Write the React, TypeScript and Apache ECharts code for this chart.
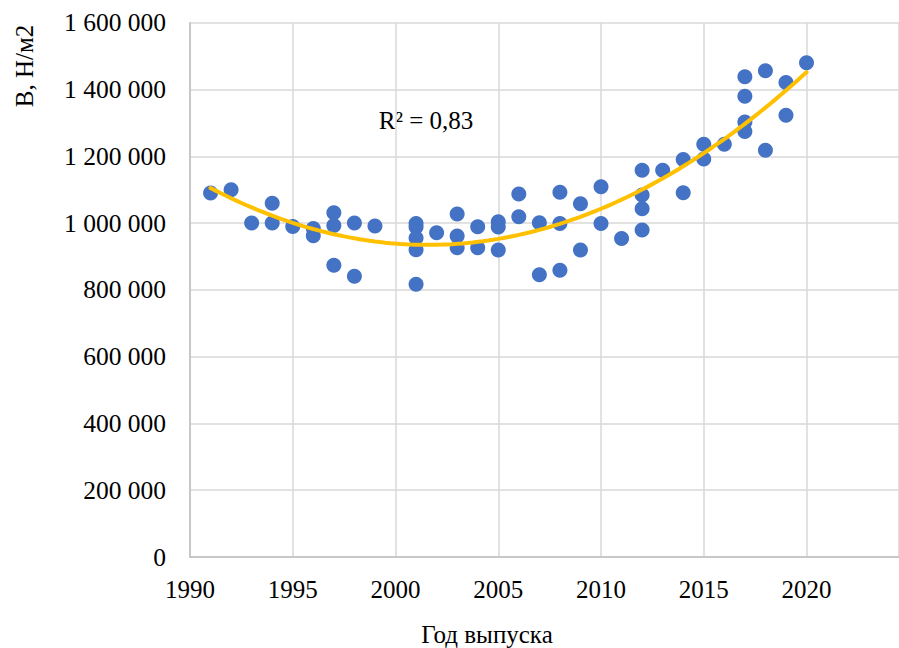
import React, { useEffect, useRef } from "react";
import * as echarts from "echarts";

const years = [
  1991, 1992, 1993, 1994, 1994, 1995, 1996, 1996, 1997, 1997, 1997, 1998, 1998, 1999,
  2001, 2001, 2001, 2001, 2001, 2002, 2003, 2003, 2003, 2004, 2004, 2005, 2005, 2005,
  2006, 2006, 2007, 2007, 2008, 2008, 2008, 2009, 2009, 2010, 2010, 2011,
  2012, 2012, 2012, 2012, 2013, 2014, 2014, 2015, 2015, 2016,
  2017, 2017, 2017, 2017, 2018, 2018, 2019, 2019, 2020,
];
const values = [
  1090000, 1100000, 1000000, 1000000, 1059000, 990000, 984000, 962000, 1031000, 993000, 874000, 1000000, 841000, 991000,
  999000, 988000, 955000, 920000, 817000, 971000, 1027000, 961000, 926000, 989000, 926000, 1004000, 988000, 919000,
  1087000, 1019000, 1001000, 845000, 1092000, 999000, 859000, 1058000, 919000, 1109000, 999000, 954000,
  1158000, 1084000, 1043000, 979000, 1158000, 1190000, 1091000, 1236000, 1192000, 1236000,
  1438000, 1380000, 1303000, 1274000, 1456000, 1218000, 1421000, 1323000, 1480000,
];
const xTicks = [1990, 1995, 2000, 2005, 2010, 2015, 2020];
const r2Label = "R² = 0,83";
const xTitle = "Год выпуска";
const yTitle = "В, Н/м2";

// Least-squares polynomial (order 2) trendline, as in the spreadsheet
function quadFit(xs: number[], ys: number[]) {
  const x0 = 2000;
  let s0 = 0, s1 = 0, s2 = 0, s3 = 0, s4 = 0, t0 = 0, t1 = 0, t2 = 0;
  for (let i = 0; i < xs.length; i++) {
    const x = xs[i] - x0;
    const y = ys[i];
    s0 += 1; s1 += x; s2 += x * x; s3 += x * x * x; s4 += x * x * x * x;
    t0 += y; t1 += x * y; t2 += x * x * y;
  }
  const M = [
    [s0, s1, s2, t0],
    [s1, s2, s3, t1],
    [s2, s3, s4, t2],
  ];
  for (let c = 0; c < 3; c++) {
    for (let r = c + 1; r < 3; r++) {
      const f = M[r][c] / M[c][c];
      for (let k = c; k < 4; k++) M[r][k] -= f * M[c][k];
    }
  }
  const b = [0, 0, 0];
  for (let r = 2; r >= 0; r--) {
    let s = M[r][3];
    for (let k = r + 1; k < 3; k++) s -= M[r][k] * b[k];
    b[r] = s / M[r][r];
  }
  return (x: number) => {
    const d = x - x0;
    return b[0] + b[1] * d + b[2] * d * d;
  };
}

export default function App() {
  const ref = useRef<HTMLDivElement>(null);
  useEffect(() => {
    if (!ref.current) return;
    const chart = echarts.init(ref.current, null, { renderer: "svg" });
    const f = quadFit(years, values);
    const xMin = Math.min(...years);
    const xMax = Math.max(...years);
    const trend: number[][] = [];
    for (let x = xMin; x <= xMax + 1e-9; x += 0.25) trend.push([x, f(x)]);
    const font = "'Liberation Serif', 'Times New Roman', serif";
    chart.setOption({
      animation: false,
      textStyle: { fontFamily: font },
      grid: { left: 190, right: 0, top: 22.7, bottom: 91, containLabel: false },
      xAxis: {
        type: "value",
        min: 1990,
        max: 2024.5,
        interval: 5,
        axisLine: { show: true, lineStyle: { color: "#bfbfbf", width: 1.5 } },
        axisTick: { show: false },
        splitLine: { show: true, lineStyle: { color: "#d9d9d9", width: 1.5 } },
        axisLabel: {
          color: "#000",
          fontFamily: font,
          fontSize: 25,
          margin: 20,
          showMaxLabel: false,
          formatter: (v: number) => (xTicks.includes(v) ? String(v) : ""),
        },
      },
      yAxis: {
        type: "value",
        min: 0,
        max: 1600000,
        interval: 200000,
        axisLine: { show: true, lineStyle: { color: "#bfbfbf", width: 1.5 } },
        axisTick: { show: false },
        splitLine: { show: true, lineStyle: { color: "#d9d9d9", width: 1.5 } },
        axisLabel: {
          color: "#000",
          fontFamily: font,
          fontSize: 25.5,
          margin: 24,
          formatter: (v: number) => String(v).replace(/\B(?=(\d{3})+(?!\d))/g, " "),
        },
      },
      graphic: [
        {
          type: "text",
          x: 487,
          y: 634,
          style: { text: xTitle, font: `25px ${font}`, fill: "#000", align: "center", verticalAlign: "middle" },
        },
        {
          type: "text",
          x: 24,
          y: 66,
          rotation: Math.PI / 2,
          style: { text: yTitle, font: `25px ${font}`, fill: "#000", align: "center", verticalAlign: "middle" },
        },
        {
          type: "text",
          x: 426,
          y: 120,
          style: { text: r2Label, font: `25px ${font}`, fill: "#000", align: "center", verticalAlign: "middle" },
        },
      ],
      series: [
        {
          type: "scatter",
          data: years.map((y, i) => [y, values[i]]),
          symbolSize: 15,
          itemStyle: { color: "#4472C4", opacity: 1 },
          z: 2,
        },
        {
          type: "line",
          data: trend,
          showSymbol: false,
          smooth: false,
          lineStyle: { color: "#FFC000", width: 4, cap: "round" },
          z: 3,
        },
      ],
    });
    return () => chart.dispose();
  }, []);
  return (
    <div
      ref={ref}
      style={{ position: "fixed", left: 0, top: 0, width: 899, height: 648, background: "#fff" }}
    />
  );
}
